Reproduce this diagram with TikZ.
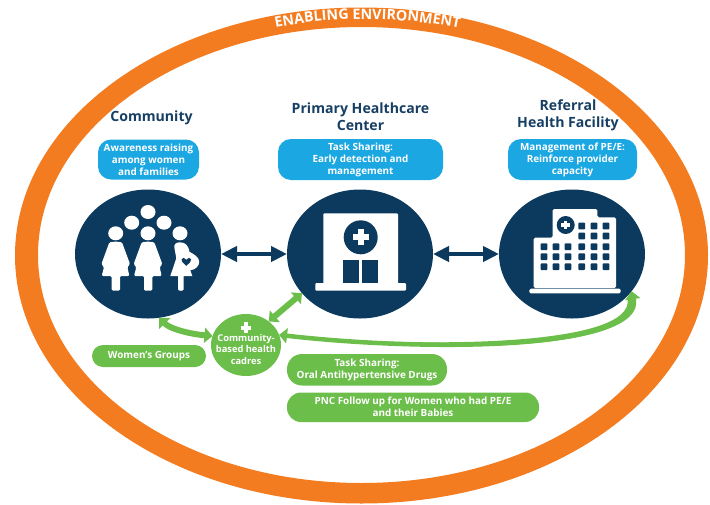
\documentclass[tikz,border=0pt]{standalone}
\usepackage{fontspec}
\setmainfont{Open Sans}
\usetikzlibrary{shapes.geometric,arrows.meta,decorations.text,calc}
\definecolor{navy}{HTML}{0B3A5E}
\definecolor{ringor}{HTML}{F47C20}
\definecolor{pillblue}{HTML}{1BA7E1}
\definecolor{pillgreen}{HTML}{6CBE4A}
\definecolor{titlenavy}{HTML}{173F63}
\tikzset{
  x=1pt,y=-1pt,
  hub/.style={ellipse,fill=navy,inner sep=0pt,outer sep=0pt,minimum width=146pt,minimum height=129pt},
  title/.style={font=\fontsize{14.1}{17}\selectfont\bfseries,text=titlenavy,align=center,inner sep=0pt},
  pilltext/.style={font=\fontsize{9.9}{12}\selectfont\bfseries,text=white,align=center,rounded corners=11pt,inner sep=0pt,outer sep=0pt,anchor=north west},
  bluepill/.style={pilltext,fill=pillblue,rounded corners=13pt},
  greenpill/.style={pilltext,fill=pillgreen},
  navyarrow/.style={draw=navy,line width=4.5pt,{Triangle[length=16pt,width=15pt]}-{Triangle[length=16pt,width=15pt]}},
  greenarrow/.style={draw=pillgreen,line width=6pt,{Triangle[length=8pt,width=15pt]}-{Triangle[length=8pt,width=15pt]}},
  pics/woman/.style={code={
    \fill[white] (0,0) ellipse [x radius=7.5,y radius=7];
    \fill[white,rounded corners=1.2pt] (0,8.3) -- (-6.3,9) -- (-14.3,30.7) -- (-11.7,34) -- (-14,42.7) -- (-4,42.7) -- (-4,57.3) -- (4.3,57.3) -- (4.3,42.7) -- (13.7,42.7) -- (11.7,34) -- (14.3,30.7) -- (6.3,9) -- cycle;
  }},
  pics/pregnant/.style={code={
    \fill[white] (0,0) ellipse [x radius=7.5,y radius=7];
    \fill[white] (0,9) .. controls (-4,9) and (-6.5,11) .. (-5.5,15) -- (-3.7,25) -- (-9.7,42.7) -- (-2,42.7) -- (-2,56) .. controls (-2,58) and (3.7,58) .. (3.7,56) -- (3.7,42.7) -- (12.3,42.7) -- (10.3,37) .. controls (16,36.5) and (19.5,32) .. (19.2,28) .. controls (19,23.5) and (13,20.5) .. (9.5,18.5) .. controls (8.5,13) and (6,9) .. (0,9) -- cycle;
    \fill[navy] (6.3,32.5) .. controls (3,29.5) and (1,28) .. (1.5,26) .. controls (2,24) and (5.2,24) .. (6.3,26.5) .. controls (7.4,24) and (10.6,24) .. (11.1,26) .. controls (11.6,28) and (9.6,29.5) .. (6.3,32.5) -- cycle;
  }},
  pics/medcross/.style={code={
    \fill[white] (-2.9,-8) rectangle (2.9,8);
    \fill[white] (-8,-2.9) rectangle (8,2.9);
  }},
}
\begin{document}
\begin{tikzpicture}
\useasboundingbox (0,0) rectangle (710,504);
% ring
\fill[ringor,even odd rule] (361.5,255.5) ellipse [x radius=346.5,y radius=248]
  (361.5,255) ellipse [x radius=323.5,y radius=228];
\path[decorate,decoration={text along path,text align=center,
  text={|\fontsize{14.3}{15}\selectfont\bfseries\color{white}|ENABLING ENVIRONMENT}}]
  (268,29.5) .. controls (330,15.5) and (400,15.5) .. (467,30);

% hubs
\node[hub] (comm) at (148,254) {};
\node[hub] (phc) at (360,254) {};
\node[hub] (ref) at (572,254) {};

% titles
\node[title] (tcomm) at (151.5,118) {Community};
\node[title] (tphc) at (360.5,116.5) {Primary Healthcare\\Center};
\node[title] (tref) at (568,115.5) {Referral\\Health Facility};

% blue pills
\node[bluepill,minimum width=101pt,minimum height=40pt] (p1) at (98,139.5) {Awareness raising\\among women\\and families};
\node[bluepill,minimum width=165pt,minimum height=41pt] (p2) at (278,139) {Task Sharing:\\Early detection and\\management};
\node[bluepill,minimum width=129pt,minimum height=41pt] (p3) at (508,139) {Management of PE/E:\\Reinforce provider\\capacity};

% green pills
\node[greenpill,minimum width=114pt,minimum height=22pt] (g1) at (92,345) {Women's Groups};
\node[greenpill,minimum width=160pt,minimum height=31.5pt,rounded corners=15pt] (g2) at (287,354) {Task Sharing:\\Oral Antihypertensive Drugs};
\node[greenpill,minimum width=252pt,minimum height=29.5pt,rounded corners=14pt] (g3) at (287,392.5) {PNC Follow up for Women who had PE/E\\and their Babies};

% cadres
\node[ellipse,fill=pillgreen,inner sep=0pt,outer sep=0pt,minimum width=70pt,minimum height=62pt] (cadres) at (246,345) {};
\pic[scale=.68] at (246,327.7) {medcross};
\node[font=\fontsize{9.3}{11.5}\selectfont\bfseries,text=white,align=center,inner sep=0pt] (tcad) at (246,349.5) {Community-\\based health\\cadres};

% connectors
\draw[navyarrow] (comm.east) -- (phc.west);
\draw[navyarrow] (phc.east) -- (ref.west);
\draw[greenarrow] (comm.-80) .. controls (170,329) and (190,334) .. (cadres.165);
\draw[greenarrow] (phc.214.6) -- (cadres.46.6);
\draw[greenarrow,line width=4.5pt] (cadres.17) .. controls (430,352) and (640,350) .. (ref.-32);
\fill[pillgreen] (cadres.17) .. controls (430,355) and (644.5,352) .. ($(ref.-32)+(4.5,8)$) -- ($(ref.-32)+(-4,8)$) .. controls (634,346) and (430,349) .. (cadres.17) -- cycle;

% community icon
\fill[white] (148,212) ellipse [x radius=7.5,y radius=7];
\fill[white] (131.7,222.7) ellipse [x radius=7.5,y radius=7];
\fill[white] (164,222.7) ellipse [x radius=7.5,y radius=7];
\pic at (115.7,233.3) {woman};
\pic at (148,233.3) {woman};
\pic at (180,233.3) {pregnant};

% primary healthcare icon
\fill[white,rounded corners=1pt] (323.3,213.3) rectangle (398,284);
\fill[white,rounded corners=1pt] (315.3,283) rectangle (406,290.7);
\fill[navy] (360.7,237.3) circle (17);
\pic at (360.7,237.3) {medcross};
\fill[navy] (343,259.7) rectangle (359,283);
\fill[navy] (362.3,259.7) rectangle (378.3,283);

% referral icon
\fill[white,rounded corners=1.5pt] (533.7,288) -- (533.7,237.7) -- (552.7,237.7) -- (552.7,209) -- (597.3,209) -- (597.3,217.3) -- (616,217.3) -- (616,288) -- cycle;
\fill[white,rounded corners=1.5pt] (529.3,288.7) rectangle (620.7,293.3);
\fill[navy] (565.7,225) circle (9);
\pic[scale=.55] at (565.7,225) {medcross};
\foreach \wy in {226,236}{\foreach \wx in {581.7,594,606}{
  \fill[navy,rounded corners=.8pt] (\wx-3.3,\wy-3.3) rectangle (\wx+3.3,\wy+3.3);}}
\foreach \wy in {246.7,256.7,266.7}{\foreach \wx in {544,556,568,581.7,594,606}{
  \fill[navy,rounded corners=.8pt] (\wx-3.3,\wy-3.3) rectangle (\wx+3.3,\wy+3.3);}}
\end{tikzpicture}
\end{document}
